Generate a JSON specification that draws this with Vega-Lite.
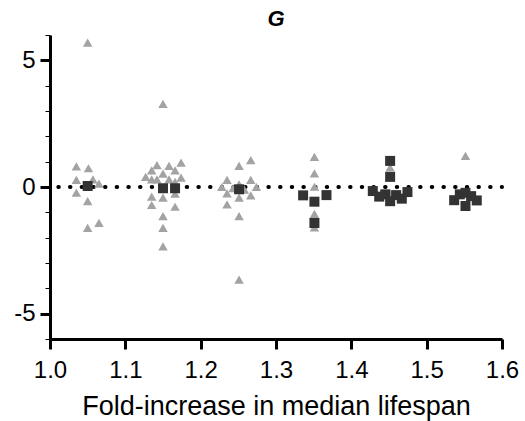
{
  "$schema": "https://vega.github.io/schema/vega-lite/v6.json",
  "width": 452,
  "height": 304,
  "autosize": {"type": "none"},
  "padding": {"left": 50, "top": 35, "right": 23, "bottom": 82},
  "background": "white",
  "config": {
    "view": {"stroke": null},
    "font": "Liberation Sans",
    "axis": {"grid": false, "domainColor": "black", "tickColor": "black", "labelColor": "black", "titleColor": "black", "labelFont": "Liberation Sans", "titleFont": "Liberation Sans", "titleFontWeight": "normal"}
  },
  "title": {"text": "G", "fontSize": 22, "fontStyle": "italic", "fontWeight": "bold", "font": "Liberation Sans", "color": "black", "anchor": "middle", "offset": 4},
  "datasets": {
    "zero": [{"y": 0}],
    "pts": [
      {"x": 1.05, "y": 5.7, "s": "tri"},
      {"x": 1.035, "y": 0.81, "s": "tri"},
      {"x": 1.051, "y": 0.74, "s": "tri"},
      {"x": 1.035, "y": 0.28, "s": "tri"},
      {"x": 1.057, "y": 0.3, "s": "tri"},
      {"x": 1.065, "y": 0.13, "s": "tri"},
      {"x": 1.035, "y": -0.22, "s": "tri"},
      {"x": 1.05, "y": -0.56, "s": "tri"},
      {"x": 1.05, "y": -1.61, "s": "tri"},
      {"x": 1.065, "y": -1.42, "s": "tri"},
      {"x": 1.15, "y": 3.28, "s": "tri"},
      {"x": 1.174, "y": 0.96, "s": "tri"},
      {"x": 1.142, "y": 0.86, "s": "tri"},
      {"x": 1.158, "y": 0.83, "s": "tri"},
      {"x": 1.135, "y": 0.66, "s": "tri"},
      {"x": 1.166, "y": 0.66, "s": "tri"},
      {"x": 1.15, "y": 0.53, "s": "tri"},
      {"x": 1.127, "y": 0.4, "s": "tri"},
      {"x": 1.135, "y": 0.3, "s": "tri"},
      {"x": 1.142, "y": 0.3, "s": "tri"},
      {"x": 1.158, "y": 0.3, "s": "tri"},
      {"x": 1.166, "y": 0.2, "s": "tri"},
      {"x": 1.174, "y": 0.37, "s": "tri"},
      {"x": 1.135, "y": -0.38, "s": "tri"},
      {"x": 1.15, "y": -0.42, "s": "tri"},
      {"x": 1.166, "y": -0.26, "s": "tri"},
      {"x": 1.135, "y": -0.71, "s": "tri"},
      {"x": 1.166, "y": -0.78, "s": "tri"},
      {"x": 1.15, "y": -1.15, "s": "tri"},
      {"x": 1.15, "y": -1.61, "s": "tri"},
      {"x": 1.15, "y": -2.34, "s": "tri"},
      {"x": 1.2665, "y": 1.06, "s": "tri"},
      {"x": 1.251, "y": 0.83, "s": "tri"},
      {"x": 1.235, "y": 0.28, "s": "tri"},
      {"x": 1.2665, "y": 0.28, "s": "tri"},
      {"x": 1.251, "y": 0.1, "s": "tri"},
      {"x": 1.228, "y": 0.0, "s": "tri"},
      {"x": 1.274, "y": 0.0, "s": "tri"},
      {"x": 1.243, "y": -0.05, "s": "tri"},
      {"x": 1.258, "y": -0.1, "s": "tri"},
      {"x": 1.235, "y": -0.25, "s": "tri"},
      {"x": 1.251, "y": -0.42, "s": "tri"},
      {"x": 1.2665, "y": -0.33, "s": "tri"},
      {"x": 1.235, "y": -0.69, "s": "tri"},
      {"x": 1.251, "y": -1.15, "s": "tri"},
      {"x": 1.251, "y": -3.66, "s": "tri"},
      {"x": 1.351, "y": 1.19, "s": "tri"},
      {"x": 1.351, "y": 0.54, "s": "tri"},
      {"x": 1.351, "y": 0.01, "s": "tri"},
      {"x": 1.351, "y": -1.06, "s": "tri"},
      {"x": 1.351, "y": -1.59, "s": "tri"},
      {"x": 1.4515, "y": 0.77, "s": "tri"},
      {"x": 1.4515, "y": -0.25, "s": "tri"},
      {"x": 1.5515, "y": 1.23, "s": "tri"},
      {"x": 1.05, "y": 0.04, "s": "sq"},
      {"x": 1.15, "y": -0.05, "s": "sq"},
      {"x": 1.166, "y": -0.05, "s": "sq"},
      {"x": 1.251, "y": -0.09, "s": "sq"},
      {"x": 1.336, "y": -0.33, "s": "sq"},
      {"x": 1.351, "y": -0.58, "s": "sq"},
      {"x": 1.367, "y": -0.32, "s": "sq"},
      {"x": 1.351, "y": -1.42, "s": "sq"},
      {"x": 1.4515, "y": 1.03, "s": "sq"},
      {"x": 1.4515, "y": 0.4, "s": "sq"},
      {"x": 1.4285, "y": -0.16, "s": "sq"},
      {"x": 1.437, "y": -0.38, "s": "sq"},
      {"x": 1.445, "y": -0.29, "s": "sq"},
      {"x": 1.4515, "y": -0.56, "s": "sq"},
      {"x": 1.4595, "y": -0.32, "s": "sq"},
      {"x": 1.467, "y": -0.46, "s": "sq"},
      {"x": 1.4745, "y": -0.2, "s": "sq"},
      {"x": 1.5365, "y": -0.52, "s": "sq"},
      {"x": 1.544, "y": -0.29, "s": "sq"},
      {"x": 1.5515, "y": -0.23, "s": "sq"},
      {"x": 1.559, "y": -0.36, "s": "sq"},
      {"x": 1.5665, "y": -0.53, "s": "sq"},
      {"x": 1.5515, "y": -0.75, "s": "sq"}
    ]
  },
  "layer": [
    {
      "data": {"name": "zero"},
      "mark": {"type": "rule", "color": "black", "strokeWidth": 4, "strokeCap": "round", "strokeDash": [0.5, 11.17], "strokeDashOffset": -11.4},
      "encoding": {
        "y": {"field": "y", "type": "quantitative", "scale": {"domain": [-6, 6], "nice": false, "zero": false},
          "axis": {"orient": "left", "values": [-6, -5, -4, -3, -2, -1, 0, 1, 2, 3, 4, 5, 6], "labels": false, "tickSize": 5, "tickWidth": 1, "domain": false, "title": null}}
      }
    },
    {
      "data": {"name": "pts"},
      "transform": [{"filter": "datum.s === 'tri'"}],
      "mark": {"type": "point", "shape": "triangle-up", "filled": true, "color": "#a3a3a3", "size": 90, "opacity": 1},
      "encoding": {
        "x": {"field": "x", "type": "quantitative", "scale": {"domain": [1.0, 1.6], "nice": false, "zero": false},
          "axis": {"values": [1.0, 1.1, 1.2, 1.3, 1.4, 1.5, 1.6], "format": ".1f", "title": "Fold-increase in median lifespan", "labelFontSize": 24, "titleFontSize": 27, "tickSize": 10, "tickWidth": 3, "domainWidth": 3, "labelPadding": 9, "titlePadding": 11, "labelFlush": false}},
        "y": {"field": "y", "type": "quantitative",
          "axis": {"orient": "left", "values": [-5, 0, 5], "labelExpr": "datum.value < 0 ? '-' + abs(datum.value) : '' + datum.value", "title": null, "labelFontSize": 24, "tickSize": 10, "tickWidth": 3, "domainWidth": 3, "labelPadding": 5}}
      }
    },
    {
      "data": {"name": "pts"},
      "transform": [{"filter": "datum.s === 'sq'"}],
      "mark": {"type": "point", "shape": "square", "filled": true, "color": "#333333", "size": 100, "opacity": 1},
      "encoding": {
        "x": {"field": "x", "type": "quantitative"},
        "y": {"field": "y", "type": "quantitative", "axis": null}
      }
    }
  ],
  "resolve": {"axis": {"y": "independent"}}
}
